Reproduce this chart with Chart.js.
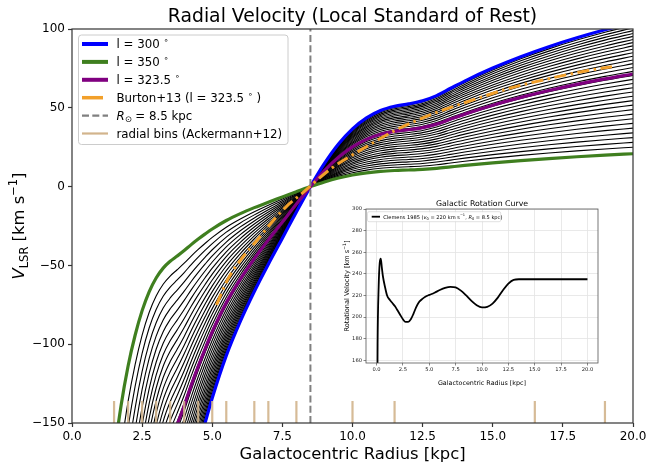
<!DOCTYPE html>
<html><head><meta charset="utf-8">
<script src="https://cdn.jsdelivr.net/npm/chart.js@4"></script>
<style>
html,body{margin:0;padding:0;background:#fff;overflow:hidden}
#wrap{position:relative;width:647px;height:467px}
#main{position:absolute;left:0;top:0}
#inset{position:absolute;left:330px;top:195px}
</style></head><body>
<div id="wrap"><canvas id="main" width="647" height="467"></canvas><canvas id="inset" width="280" height="200"></canvas></div>
<script>
// ---------- data ----------
const R0 = 8.5;       // kpc
const V0 = 220;       // km/s
// Clemens 1985 rotation curve
const rotRadius   = [0, 0.1, 0.2, 0.3, 0.4, 0.5, 0.6, 0.8, 1.0, 1.25, 1.5, 1.75, 2.0, 2.25, 2.5, 2.75, 3.0, 3.25, 3.5, 3.75, 4.0, 4.25, 4.5, 4.75, 5.0, 5.5, 6.0, 6.5, 7.0, 7.5, 8.0, 8.5, 9.0, 9.5, 10.0, 10.5, 11.0, 11.5, 12.0, 12.5, 13.0, 13.5, 14, 15, 16, 17, 18, 19, 20];
const rotVelocity = [0, 175, 228, 250, 254, 246, 238, 228, 220, 216, 213, 210, 206, 202, 198, 195.5, 195.5, 198, 203, 209, 213.5, 216, 218, 219.5, 220.5, 222.5, 225, 227, 228, 227.5, 224.5, 220, 215, 211, 209, 209.5, 212.5, 218, 225, 231, 234.5, 235, 235, 235, 235, 235, 235, 235, 235];
// black family of longitudes
const longitudes = [300, 301.5, 303, 304.5, 306, 307.5, 309, 310.5, 312, 313.5, 315, 316.5, 318, 319.5, 321, 322.5, 324, 325.5, 327, 328.5, 330, 331.5, 333, 334.5, 336, 337.5, 339, 340.5, 342, 343.5, 345, 346.5, 348];
const lBlue = 300, lGreen = 350, lPurple = 323.5;
// Burton+13 (l = 323.5)
const burtonRadius = [5.15, 5.55, 6.1, 6.6, 7.2, 7.65, 8.2, 8.6, 9.25, 10.4, 11.55, 12.75, 14.3, 15.6, 17.05, 18.35, 19.25];
const burtonVlsr   = [-75, -59, -44.5, -34, -21, -12.5, -4.3, 2, 11.6, 24.3, 35.9, 45.4, 55, 62.4, 68.7, 73.5, 76.1];
// Ackermann+12 radial bins
const binEdges = [1.5, 2, 2.5, 3, 3.5, 4, 4.5, 5, 5.5, 6.5, 7, 8, 10, 11.5, 16.5, 19];
const binLow = -150, binHigh = -136;
// ticks
const xTicks = [0, 2.5, 5, 7.5, 10, 12.5, 15, 17.5, 20];
const yTicks = [-150, -100, -50, 0, 50, 100];
const insetXTicks = [0, 2.5, 5, 7.5, 10, 12.5, 15, 17.5, 20];
const insetYTicks = [160, 180, 200, 220, 240, 260, 280, 300];

// ---------- helpers ----------
const FAM = '"DejaVu Sans", sans-serif';
const SUB = {scale:0.7, dy:0.22};
const SUP = {scale:0.7, dy:-0.42};
function seg(t, o){ return Object.assign({t:t}, o||{}); }
function fontStr(base, s){ return (s.italic?'italic ':'') + (base*(s.scale||1)).toFixed(2) + 'px ' + FAM; }
function measureRich(ctx, segs, base){ let w=0; segs.forEach(s=>{ctx.font=fontStr(base,s); w+=ctx.measureText(s.t).width;}); return w; }
function drawRich(ctx, segs, x, y, base, align, color){
  ctx.save(); ctx.fillStyle=color||'#000'; ctx.textBaseline='alphabetic'; ctx.textAlign='left';
  const w=measureRich(ctx,segs,base);
  let cx = align==='center'? x-w/2 : (align==='right'? x-w : x);
  segs.forEach(s=>{ctx.font=fontStr(base,s); ctx.fillText(s.t, cx, y+(s.dy||0)*base); cx+=ctx.measureText(s.t).width;});
  ctx.restore();
}
function vlsrCurve(l){
  const s = Math.sin(l*Math.PI/180);
  const pts=[];
  for(let i=0;i<rotRadius.length;i++){
    const R=rotRadius[i]; if(R<1) continue;
    pts.push({x:R, y:(rotVelocity[i]*R0/R - V0)*s});
  }
  return pts;
}
function lineDs(data, color, width, extra){
  return Object.assign({data:data, borderColor:color, borderWidth:width, showLine:true, pointRadius:0,
    cubicInterpolationMode:'monotone', fill:false}, extra||{});
}
function noPadX(s, h){ s.height = h; s.paddingLeft = 0; s.paddingRight = 0; }
function noPadY(s, w){ s.width = w; s.paddingTop = 0; s.paddingBottom = 0; }

// ---------- main chart datasets (first = drawn on top) ----------
const COL = {blue:'#0000ff', green:'#3f7f1f', purple:'#800080', orange:'#f2a02a', grey:'#808080', tan:'#d2b48c'};
const datasets = [];
const binData = [];
binEdges.forEach(r=>{ binData.push({x:r,y:binLow},{x:r,y:binHigh},{x:r,y:null}); });
datasets.push(lineDs(binData, 'rgba(210,180,140,0.9)', 2.2, {cubicInterpolationMode:'default', tension:0, spanGaps:false}));
datasets.push(lineDs([{x:R0,y:-150},{x:R0,y:100}], COL.grey, 2, {borderDash:[7,3.3], cubicInterpolationMode:'default', tension:0}));
datasets.push(lineDs(burtonRadius.map((r,i)=>({x:r,y:burtonVlsr[i]})), COL.orange, 3, {borderDash:[12,4.5,2.5,4.5], borderCapStyle:'butt'}));
datasets.push(lineDs(vlsrCurve(lPurple), COL.purple, 3.2));
datasets.push(lineDs(vlsrCurve(lGreen), COL.green, 3.2));
datasets.push(lineDs(vlsrCurve(lBlue), COL.blue, 3.2));
longitudes.forEach(l=>datasets.push(lineDs(vlsrCurve(l), '#000', 1.1)));

const legendItems = [
  {color:COL.blue, w:4, segs:[seg('l = 300 '), seg('\u2218', SUP)]},
  {color:COL.green, w:4, segs:[seg('l = 350 '), seg('\u2218', SUP)]},
  {color:COL.purple, w:4, segs:[seg('l = 323.5 '), seg('\u2218', SUP)]},
  {color:COL.orange, w:3.5, short:true, segs:[seg('Burton+13 (l = 323.5 '), seg('\u2218', SUP), seg(' )')]},
  {color:COL.grey, w:2.2, dash:[7,3.3], segs:[seg('R',{italic:true}), seg('\u2299', SUB), seg(' = 8.5 kpc')]},
  {color:COL.tan, w:2.2, segs:[seg('radial bins (Ackermann+12)')]}
];

const mainPlugin = {
  id:'mainDeco',
  beforeDraw(chart){ const c=chart.ctx; c.save(); c.fillStyle='#fff'; c.fillRect(0,0,chart.width,chart.height); c.restore(); },
  afterDatasetsDraw(chart){
    const c=chart.ctx, a=chart.chartArea;
    c.save();
    c.strokeStyle='#333'; c.lineWidth=1.2;
    c.strokeRect(a.left, a.top, a.right-a.left, a.bottom-a.top);
    // legend box
    const bx=78.5, by=35, bw=209.5, bh=109.5, rr=3;
    c.beginPath(); c.roundRect(bx,by,bw,bh,rr);
    c.fillStyle='rgba(255,255,255,0.85)'; c.fill();
    c.strokeStyle='#cccccc'; c.lineWidth=1; c.stroke();
    legendItems.forEach((it,i)=>{
      const yc = 44 + i*17.9;
      c.save();
      c.strokeStyle=it.color; c.lineWidth=it.w; c.lineCap='butt';
      if(it.dash) c.setLineDash(it.dash);
      c.beginPath(); c.moveTo(82, yc); c.lineTo(it.short?103:108, yc); c.stroke();
      c.restore();
      drawRich(c, it.segs, 116.5, yc+4.3, 11.8, 'left', '#000');
    });
    c.restore();
  },
  afterDraw(chart){
    const c=chart.ctx, a=chart.chartArea;
    const cx=(a.left+a.right)/2, cy=(a.top+a.bottom)/2;
    drawRich(c, [seg('Radial Velocity (Local Standard of Rest)')], cx, 22, 18.8, 'center');
    drawRich(c, [seg('Galactocentric Radius [kpc]')], cx, 459, 16.4, 'center');
    c.save(); c.translate(18, cy); c.rotate(-Math.PI/2);
    drawRich(c, [seg('V',{italic:true}), seg('LSR', SUB), seg(' [km s'), seg('\u22121', SUP), seg(']')], 0, 6, 16.4, 'center');
    c.restore();
  }
};

const minusFmt = v => v<0 ? '\u2212'+Math.abs(v) : String(v);

new Chart(document.getElementById('main'), {
  type:'scatter',
  data:{datasets:datasets},
  options:{
    responsive:false, animation:false, devicePixelRatio:1, events:[],
    layout:{padding:{top:29, right:14, left:0, bottom:0}},
    plugins:{legend:{display:false}, tooltip:{enabled:false}, title:{display:false}},
    scales:{
      x:{type:'linear', min:0, max:20,
        afterBuildTicks:s=>{ s.ticks = xTicks.map(v=>({value:v})); },
        afterFit:s=>noPadX(s, 44),
        ticks:{callback:v=>Number(v).toFixed(1), font:{family:FAM, size:12}, color:'#000', padding:3, maxRotation:0, autoSkip:false},
        grid:{display:true, drawOnChartArea:false, drawTicks:true, tickLength:4, tickColor:'#333', tickWidth:1.2},
        border:{display:false}},
      y:{type:'linear', min:-150, max:100,
        afterBuildTicks:s=>{ s.ticks = yTicks.map(v=>({value:v})); },
        afterFit:s=>noPadY(s, 72),
        ticks:{callback:v=>minusFmt(v), font:{family:FAM, size:12}, color:'#000', padding:3, autoSkip:false},
        grid:{display:true, drawOnChartArea:false, drawTicks:true, tickLength:4, tickColor:'#333', tickWidth:1.2},
        border:{display:false}}
    }
  },
  plugins:[mainPlugin]
});

// ---------- inset ----------
const insetPlugin = {
  id:'insetDeco',
  beforeDraw(chart){ const c=chart.ctx, a=chart.chartArea; c.save(); c.fillStyle='#fff'; c.fillRect(a.left,a.top,a.right-a.left,a.bottom-a.top); c.restore(); },
  afterDatasetsDraw(chart){
    const c=chart.ctx, a=chart.chartArea;
    c.save();
    c.strokeStyle='#555'; c.lineWidth=0.8;
    c.strokeRect(a.left, a.top, a.right-a.left, a.bottom-a.top);
    // legend
    c.beginPath(); c.roundRect(37.5, 16.7, 133.2, 10, 1.5);
    c.fillStyle='rgba(255,255,255,0.85)'; c.fill();
    c.strokeStyle='#cccccc'; c.lineWidth=0.6; c.stroke();
    c.strokeStyle='#000'; c.lineWidth=1.8;
    c.beginPath(); c.moveTo(41.7, 21.7); c.lineTo(50, 21.7); c.stroke();
    c.restore();
    drawRich(c, [seg('Clemens 1985 ('), seg('v',{italic:true}), seg('0',SUB), seg(' = 220 km s'), seg('\u22121',SUP), seg(', '), seg('R',{italic:true}), seg('0',SUB), seg(' = 8.5 kpc)')], 53.3, 23.5, 5.1, 'left', '#000');
  },
  afterDraw(chart){
    const c=chart.ctx, a=chart.chartArea;
    const cx=(a.left+a.right)/2, cy=(a.top+a.bottom)/2;
    drawRich(c, [seg('Galactic Rotation Curve')], cx, 10.8, 7.8, 'center', '#000');
    drawRich(c, [seg('Galactocentric Radius [kpc]')], cx, 190, 6.4, 'center', '#000');
    c.save(); c.translate(16.7, cy); c.rotate(-Math.PI/2);
    drawRich(c, [seg('Rotational Velocity [km s'), seg('\u22121',SUP), seg(']')], 0, 2.4, 6.6, 'center', '#000');
    c.restore();
  }
};

new Chart(document.getElementById('inset'), {
  type:'scatter',
  data:{datasets:[lineDs(rotRadius.map((r,i)=>({x:r,y:rotVelocity[i]})), '#000', 1.8)]},
  options:{
    responsive:false, animation:false, devicePixelRatio:1, events:[],
    layout:{padding:{top:14, right:12, left:0, bottom:0}},
    plugins:{legend:{display:false}, tooltip:{enabled:false}},
    scales:{
      x:{type:'linear', min:-1, max:21,
        afterBuildTicks:s=>{ s.ticks = insetXTicks.map(v=>({value:v})); },
        afterFit:s=>noPadX(s, 32),
        ticks:{callback:v=>Number(v).toFixed(1), font:{family:FAM, size:5.2}, color:'#222', padding:1.5, maxRotation:0, autoSkip:false},
        grid:{display:true, drawOnChartArea:true, color:'#e3e3e3', lineWidth:0.8, drawTicks:true, tickLength:2.5, tickColor:'#555', tickWidth:0.7},
        border:{display:false}},
      y:{type:'linear', min:157.5, max:300,
        afterBuildTicks:s=>{ s.ticks = insetYTicks.map(v=>({value:v})); },
        afterFit:s=>noPadY(s, 36),
        ticks:{callback:v=>String(v), font:{family:FAM, size:5.2}, color:'#222', padding:1.5, autoSkip:false},
        grid:{display:true, drawOnChartArea:true, color:'#e3e3e3', lineWidth:0.8, drawTicks:true, tickLength:2.5, tickColor:'#555', tickWidth:0.7},
        border:{display:false}}
    }
  },
  plugins:[insetPlugin]
});
</script>
</body></html>
